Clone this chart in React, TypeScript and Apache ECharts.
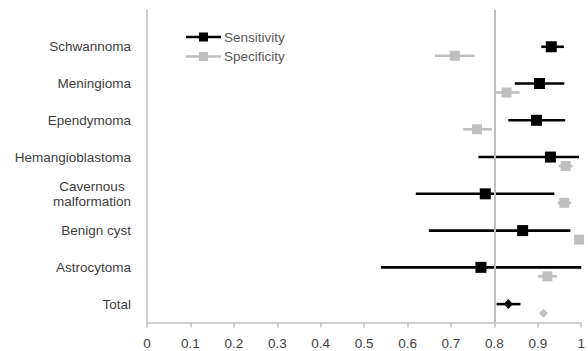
import React, { useEffect, useRef } from "react";
import * as echarts from "echarts";

const categories = [
  "Schwannoma",
  "Meningioma",
  "Ependymoma",
  "Hemangioblastoma",
  "Cavernous\nmalformation",
  "Benign cyst",
  "Astrocytoma",
  "Total",
];
const sensitivity = [0.931, 0.904, 0.897, 0.929, 0.779, 0.865, 0.769, 0.832];
const sensLower = [0.908, 0.847, 0.832, 0.763, 0.619, 0.649, 0.539, 0.805];
const sensUpper = [0.96, 0.961, 0.963, 0.995, 0.938, 0.975, 1.0, 0.86];
const specificity = [0.709, 0.828, 0.76, 0.964, 0.961, 0.995, 0.922, 0.913];
const specLower = [0.663, 0.801, 0.728, 0.948, 0.946, 0.995, 0.9, 0.913];
const specUpper = [0.754, 0.858, 0.794, 0.98, 0.977, 0.995, 0.944, 0.913];
const xTicks = [0, 0.1, 0.2, 0.3, 0.4, 0.5, 0.6, 0.7, 0.8, 0.9, 1];
const referenceLine = 0.8;

const BLACK = "#000000";
const GREY = "#bfbfbf";
const AXIS = "#c0c0c0";
const TEXT = "#404040";
const FONT = "'Liberation Sans', Arial, sans-serif";

const n = categories.length;
const rowY = (i: number) => n - i;
const specOffset = 0.245;

export default function App() {
  const ref = useRef<HTMLDivElement>(null);
  useEffect(() => {
    if (!ref.current) return;
    const chart = echarts.init(ref.current, undefined, { renderer: "svg" });
    const lastIdx = n - 1;

    const barSeries = (name: string, lo: number[], hi: number[], off: number, color: string) => ({
      type: "custom",
      name,
      silent: true,
      z: 2,
      data: categories.map((_, i) => [lo[i], hi[i], rowY(i) - off]),
      encode: { x: [0, 1], y: 2 },
      renderItem: (params: any, api: any) => {
        const p1 = api.coord([api.value(0), api.value(2)]);
        const p2 = api.coord([api.value(1), api.value(2)]);
        return {
          type: "line",
          shape: { x1: p1[0], y1: p1[1], x2: p2[0], y2: p2[1] },
          style: { stroke: color, lineWidth: 2.6 },
        };
      },
    });

    const option: any = {
      animation: false,
      textStyle: { fontFamily: FONT },
      grid: { left: 147, right: 2.5, top: 10, bottom: 28.5, containLabel: false },
      legend: {
        orient: "vertical",
        left: 186,
        top: 30,
        itemWidth: 35,
        itemHeight: 9,
        itemGap: 5.5,
        padding: 0,
        textStyle: { fontSize: 13.5, color: "#595959", fontFamily: FONT, padding: [0, 0, 0, -2] },
        data: [
          { name: "Sensitivity", icon: "path://M0,3.2H35V5.8H0Z M13,0H22V9H13Z" },
          { name: "Specificity", icon: "path://M0,3.2H35V5.8H0Z M13,0H22V9H13Z" },
        ],
      },
      xAxis: {
        type: "value",
        min: 0,
        max: 1,
        interval: 0.1,
        axisLine: { show: true, lineStyle: { color: AXIS, width: 1.5 } },
        axisTick: { show: true, inside: false, length: 5, lineStyle: { color: AXIS, width: 1.5 } },
        splitLine: { show: false },
        axisLabel: {
          margin: 13.5,
          fontSize: 13.5,
          color: TEXT,
          fontFamily: FONT,
          showMaxLabel: true,
          showMinLabel: true,
          customValues: xTicks,
          formatter: (v: number) => String(Math.round(v * 10) / 10),
        },
      },
      yAxis: {
        type: "value",
        min: 0.5,
        max: 9,
        axisLine: { show: true, lineStyle: { color: AXIS, width: 1.5 } },
        axisTick: { show: false },
        splitLine: { show: false },
        axisLabel: {
          margin: 16,
          fontSize: 13.5,
          color: TEXT,
          fontFamily: FONT,
          customValues: categories.map((_, i) => rowY(i)),
          formatter: (v: number) => {
            const idx = n - Math.round(v);
            const label = categories[idx] ?? "";
            if (label.indexOf("\n") >= 0) {
              return label
                .split("\n")
                .map((s) => "{c|" + s + "}")
                .join("\n");
            }
            return label;
          },
          rich: {
            c: { align: "center", fontSize: 13.5, color: TEXT, fontFamily: FONT, lineHeight: 15 },
          },
        },
      },
      series: [
        barSeries("specCI", specLower, specUpper, specOffset, GREY),
        barSeries("sensCI", sensLower, sensUpper, 0, BLACK),
        {
          type: "scatter",
          name: "Specificity",
          z: 3,
          itemStyle: { color: GREY, opacity: 1 },
          data: specificity.map((v, i) => ({
            value: [v, rowY(i) - specOffset],
            symbol: i === lastIdx ? "diamond" : "rect",
            symbolSize: i === lastIdx ? 9 : 10,
          })),
          markLine: {
            silent: true,
            symbol: "none",
            label: { show: false },
            lineStyle: { color: GREY, width: 2, type: "solid" },
            data: [{ xAxis: referenceLine }],
          },
        },
        {
          type: "scatter",
          name: "Sensitivity",
          z: 4,
          itemStyle: { color: BLACK, opacity: 1 },
          data: sensitivity.map((v, i) => ({
            value: [v, rowY(i)],
            symbol: i === lastIdx ? "diamond" : "rect",
            symbolSize: i === lastIdx ? [9, 10] : 11,
          })),
        },
      ],
    };
    chart.setOption(option);
    return () => chart.dispose();
  }, []);
  return <div ref={ref} style={{ width: 588, height: 351, position: "absolute", left: 0, top: 0 }} />;
}
